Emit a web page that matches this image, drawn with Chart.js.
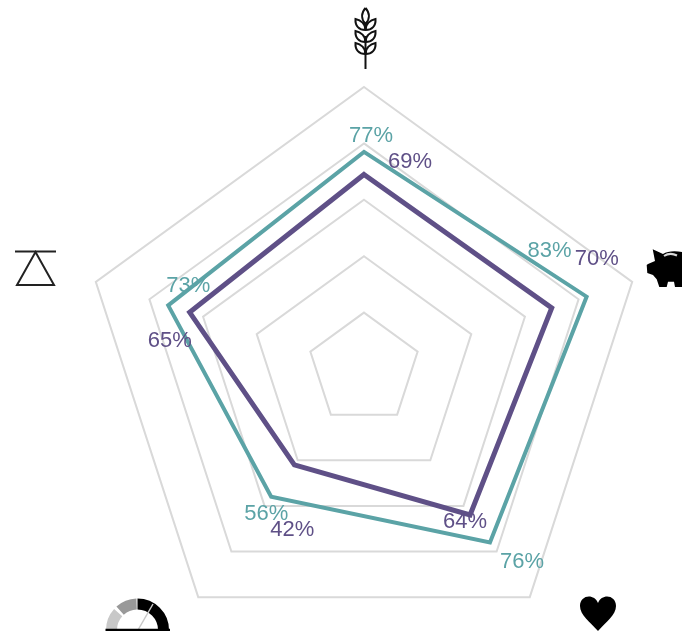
<!DOCTYPE html>
<html><head><meta charset="utf-8">
<script src="https://cdn.jsdelivr.net/npm/chart.js@4"></script>
<style>html,body{margin:0;padding:0;background:#fff;overflow:hidden}#w{width:682px;height:631px;overflow:hidden;position:relative}canvas{display:block}</style>
</head><body><div id="w"><canvas id="c" width="682" height="682"></canvas></div>
<script>
const categories = ['Grain','Savings','Health','Speed','Balance'];
const seriesA = [77,83,76,56,73];
const seriesB = [69,70,64,42,65];
const colorA = '#5ba3a6';
const colorB = '#5f5087';
const offsetsA = [[7,-16],[-37,-46],[32,20],[-5,17],[20,-19]];
const offsetsB = [[46,-12],[45,-49],[-5,7],[-2,65],[-20,29]];

const valueLabels = {
  id:'valueLabels',
  afterDatasetsDraw(chart){
    const {ctx,scales:{r}} = chart;
    ctx.save();
    ctx.font = '22px "Liberation Sans", Arial, sans-serif';
    ctx.textAlign='center'; ctx.textBaseline='middle';
    [[seriesA,offsetsA,colorA],[seriesB,offsetsB,colorB]].forEach(([vals,offs,col])=>{
      ctx.fillStyle=col;
      vals.forEach((v,i)=>{
        const p=r.getPointPositionForValue(i,v);
        ctx.fillText(v+'%',p.x+offs[i][0],p.y+offs[i][1]);
      });
    });
    ctx.restore();
  }
};

const icons = {
  id:'icons',
  afterDraw(chart){
    const ctx=chart.ctx;
    ctx.save();
    // wheat
    ctx.strokeStyle='#111'; ctx.lineWidth=2; ctx.lineCap='butt';
    ctx.beginPath(); ctx.moveTo(365.5,36); ctx.lineTo(365.5,69); ctx.stroke();
    ctx.beginPath(); ctx.moveTo(365.5,8);
    ctx.bezierCurveTo(370,13,370,19,365.5,24);
    ctx.bezierCurveTo(361,19,361,13,365.5,8); ctx.stroke();
    [[30,19],[42,31],[54,43]].forEach(([b,t])=>{
      ctx.beginPath(); ctx.moveTo(365.5,b);
      ctx.bezierCurveTo(359,b,355,b-4,355.5,t);
      ctx.bezierCurveTo(361,t+1,365.5,t+5,365.5,b);
      ctx.bezierCurveTo(372,b,376,b-4,375.5,t);
      ctx.bezierCurveTo(370,t+1,365.5,t+5,365.5,b);
      ctx.stroke();
    });
    // pig
    ctx.fillStyle='#000';
    const pig=new Path2D('M652.7 249.3 L663 254 C668 250.5 678 250.5 686 253 L686 285 L682 287 L675 287 L674 281.7 L668 281.7 L666.7 287 L659.3 287 L656.7 279.3 L653 275 L647.3 273 L646.7 265 L648 264 L655 261 Z');
    ctx.fill(pig);
    ctx.strokeStyle='#d8d8d8'; ctx.lineWidth=2;
    ctx.beginPath(); ctx.moveTo(664,256); ctx.quadraticCurveTo(670,252,677,255.5); ctx.stroke();
    // heart
    ctx.beginPath();
    ctx.moveTo(598,631);
    ctx.bezierCurveTo(590,622,580,615,580,606);
    ctx.bezierCurveTo(580,595,594,593,598,603);
    ctx.bezierCurveTo(602,593,616,595,616,606);
    ctx.bezierCurveTo(616,615,606,622,598,631);
    ctx.fill();
    // triangle
    ctx.strokeStyle='#222'; ctx.lineWidth=2;
    ctx.beginPath(); ctx.moveTo(15,251.5); ctx.lineTo(56,251.5); ctx.stroke();
    ctx.beginPath(); ctx.moveTo(35.5,252); ctx.lineTo(54,285); ctx.lineTo(17,285); ctx.closePath(); ctx.stroke();
    // gauge
    const cx=137.5, cy=630, d=Math.PI/180;
    ctx.lineWidth=11;
    [['#c8c8c8',180,138],['#999999',132,92],['#000000',90,0]].forEach(([c,a,b])=>{
      ctx.strokeStyle=c;
      ctx.beginPath(); ctx.arc(cx,cy,26,-a*d,-b*d); ctx.stroke();
    });
    ctx.strokeStyle='#c8c8c8'; ctx.lineWidth=1.5;
    ctx.beginPath(); ctx.moveTo(138,630); ctx.lineTo(153,604); ctx.stroke();
    ctx.strokeStyle='#000'; ctx.lineWidth=2.5;
    ctx.beginPath(); ctx.moveTo(105.5,630); ctx.lineTo(170,630); ctx.stroke();
    ctx.restore();
  }
};

new Chart(document.getElementById('c'),{
  type:'radar',
  data:{labels:categories,datasets:[
    {data:seriesA,borderColor:colorA,backgroundColor:'transparent',borderWidth:4,pointRadius:0,tension:0},
    {data:seriesB,borderColor:colorB,backgroundColor:'transparent',borderWidth:5,pointRadius:0,tension:0}
  ]},
  plugins:[valueLabels,icons],
  options:{
    responsive:false,animation:false,
    layout:{padding:{left:82,right:36,top:87,bottom:31}},
    plugins:{legend:{display:false},tooltip:{enabled:false}},
    elements:{line:{borderJoinStyle:'miter'}},
    scales:{r:{min:0,max:100,
      ticks:{display:false,stepSize:20},
      pointLabels:{display:false},
      angleLines:{display:false},
      grid:{color:'#d9d9d9',lineWidth:2}
    }}
  }
});
</script></body></html>
